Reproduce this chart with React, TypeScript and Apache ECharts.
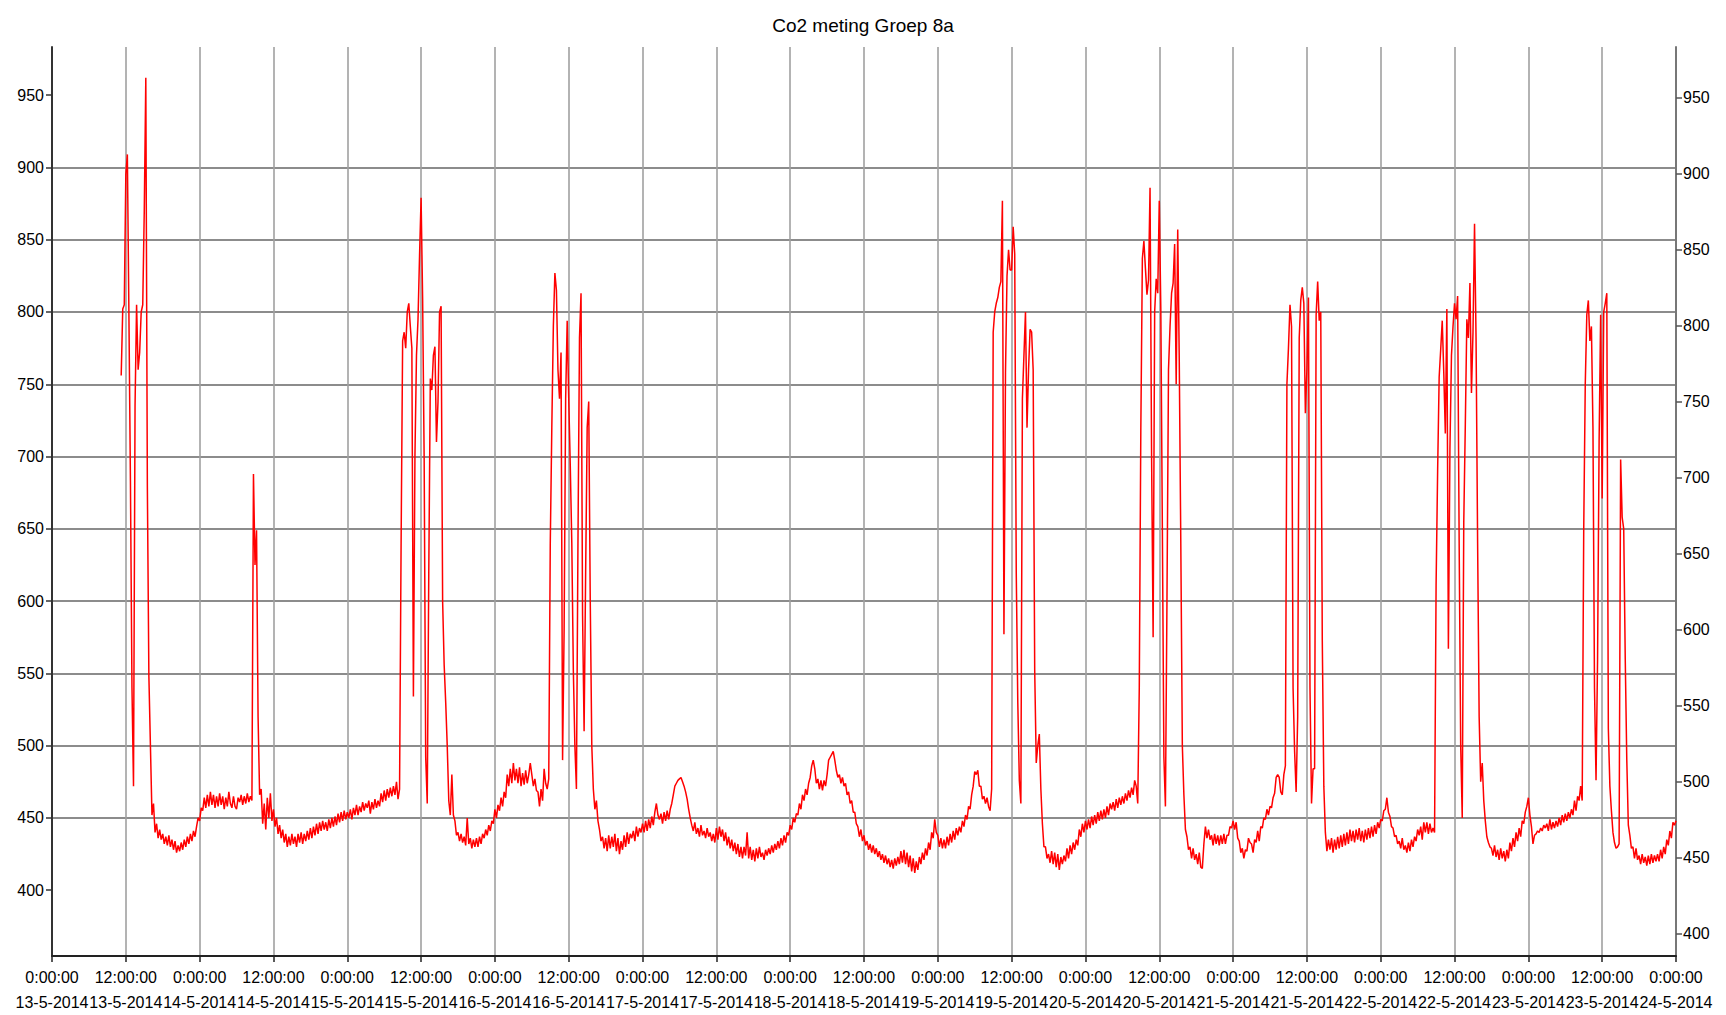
import React, { useEffect, useRef } from "react";
import * as echarts from "echarts";

const TITLE = "Co2 meting Groep 8a";

const X_TICK_TIMES = [
  "0:00:00", "12:00:00", "0:00:00", "12:00:00", "0:00:00", "12:00:00", "0:00:00", "12:00:00",
  "0:00:00", "12:00:00", "0:00:00", "12:00:00", "0:00:00", "12:00:00", "0:00:00", "12:00:00",
  "0:00:00", "12:00:00", "0:00:00", "12:00:00", "0:00:00", "12:00:00", "0:00:00",
];
const X_TICK_DATES = [
  "13-5-2014", "13-5-2014", "14-5-2014", "14-5-2014", "15-5-2014", "15-5-2014", "16-5-2014", "16-5-2014",
  "17-5-2014", "17-5-2014", "18-5-2014", "18-5-2014", "19-5-2014", "19-5-2014", "20-5-2014", "20-5-2014",
  "21-5-2014", "21-5-2014", "22-5-2014", "22-5-2014", "23-5-2014", "23-5-2014", "24-5-2014",
];
const Y_TICKS = [400, 450, 500, 550, 600, 650, 700, 750, 800, 850, 900, 950];

// CO2 readings every 15 minutes, one array per day (13-5-2014 .. 23-5-2014)
const DAY_13 = [
  null, null, null, null, null, null, null, null, null, null, null, null,
  null, null, null, null, null, null, null, null, null, null, null, null,
  null, null, null, null, null, null, null, null, null, null, null, null,
  null, null, null, null, null, null, null, null, null, 756, 802, 805,
  895, 909, 800, 683, 540, 472, 735, 805, 760, 772, 800, 805,
  870, 962, 680, 548, 500, 452, 460, 440, 446, 436, 442, 435,
  439, 432, 437, 431, 438, 430, 435, 428, 434, 426, 431, 427,
  433, 428, 435, 430, 437, 432, 439, 434, 441, 437, 444, 450,
];
const DAY_14 = [
  448, 457, 455, 464, 457, 466, 458, 468, 459, 466, 457, 465,
  458, 467, 459, 465, 456, 464, 458, 468, 460, 457, 465, 458,
  456, 464, 461, 466, 459, 465, 460, 467, 461, 465, 462, 688,
  625, 649, 520, 466, 470, 446, 460, 442, 464, 450, 467, 448,
  456, 444, 450, 439, 445, 436, 442, 433, 439, 430, 437, 431,
  439, 432, 437, 430, 439, 433, 440, 432, 439, 434, 441, 435,
  443, 436, 444, 438, 446, 439, 447, 441, 448, 442, 447, 441,
  449, 443, 450, 444, 451, 445, 453, 447, 454, 448, 455, 449,
];
const DAY_15 = [
  454, 450, 456, 449, 457, 452, 459, 452, 458, 454, 461, 455,
  460, 457, 462, 453, 461, 456, 463, 457, 462, 458, 467, 461,
  469, 462, 470, 464, 471, 465, 472, 466, 475, 463, 470, 640,
  780, 786, 775, 800, 806, 790, 775, 534, 700, 770, 795, 839,
  879, 809, 698, 492, 460, 620, 754, 746, 770, 776, 710, 738,
  800, 804, 600, 556, 530, 500, 462, 452, 480, 452, 448, 438,
  440, 434, 439, 433, 437, 431, 450, 432, 436, 429, 435, 430,
  436, 430, 437, 432, 439, 436, 442, 438, 445, 441, 448, 446,
];
const DAY_16 = [
  456, 450, 459, 455, 464, 458, 468, 464, 480, 472, 484, 474,
  488, 476, 484, 474, 485, 472, 481, 473, 483, 474, 480, 488,
  480, 472, 477, 469, 468, 458, 470, 462, 484, 474, 470, 477,
  640, 720, 790, 827, 815, 760, 740, 772, 490, 580, 740, 794,
  740, 694, 640, 552, 500, 470, 640, 782, 813, 590, 510, 620,
  720, 738, 600, 500, 470, 456, 462, 448, 442, 434, 437, 429,
  436, 427, 438, 429, 437, 430, 439, 427, 436, 425, 434, 428,
  438, 430, 440, 432, 439, 436, 441, 434, 444, 437, 443, 440,
];
const DAY_17 = [
  446, 440, 448, 441, 449, 443, 451, 445, 454, 460, 452, 449,
  453, 446, 454, 448, 455, 449, 456, 460, 466, 472, 474, 476,
  477, 478, 475, 472, 468, 463, 456, 450, 445, 441, 447, 439,
  443, 437, 445, 438, 441, 436, 443, 437, 440, 434, 439, 433,
  443, 435, 444, 437, 442, 434, 440, 431, 437, 429, 435, 427,
  433, 425, 432, 423, 430, 422, 430, 424, 440, 422, 430, 421,
  428, 420, 429, 422, 430, 423, 426, 421, 428, 424, 429, 425,
  431, 426, 432, 428, 434, 429, 436, 431, 438, 433, 440, 438,
];
const DAY_18 = [
  445, 442, 450, 447, 453, 452, 460, 456, 466, 462, 470, 466,
  474, 478, 486, 490, 484, 474, 477, 470, 476, 469, 476, 472,
  480, 490, 492, 494, 496, 490, 483, 478, 480, 474, 478, 472,
  474, 466, 468, 460, 462, 454, 454, 446, 444, 437, 442, 434,
  438, 431, 434, 428, 432, 426, 431, 425, 429, 423, 427, 421,
  425, 419, 424, 418, 422, 416, 421, 415, 422, 417, 423, 418,
  427, 419, 428, 418, 426, 416, 424, 413, 422, 412, 420, 414,
  423, 418, 426, 421, 429, 424, 433, 428, 440, 436, 449, 440,
];
const DAY_19 = [
  438, 430, 436, 429, 435, 429, 437, 431, 439, 433, 441, 435,
  443, 438, 444, 440, 448, 444, 452, 449, 458, 456, 466, 472,
  482, 480, 483, 472, 472, 463, 465, 460, 464, 458, 455, 470,
  786, 800, 806, 810, 817, 821, 877, 577, 758, 825, 843, 829,
  829, 859, 840, 620, 530, 476, 460, 740, 770, 800, 720, 760,
  788, 786, 760, 552, 488, 500, 508, 470, 446, 430, 430, 422,
  425, 419, 427, 418, 426, 416, 425, 414, 423, 418, 424, 420,
  429, 422, 431, 425, 433, 428, 435, 431, 442, 437, 446, 440,
];
const DAY_20 = [
  448, 442, 449, 443, 451, 445, 452, 446, 454, 448, 455, 449,
  456, 450, 458, 452, 460, 456, 461, 455, 463, 457, 464, 459,
  465, 460, 467, 462, 469, 464, 471, 466, 476, 472, 460, 540,
  718, 837, 849, 830, 812, 822, 886, 700, 575, 800, 823, 813,
  877, 802, 651, 492, 458, 600, 760, 790, 813, 820, 847, 750,
  857, 766, 640, 500, 466, 442, 437, 428, 430, 422, 429, 421,
  425, 418, 426, 416, 415, 432, 444, 436, 442, 435, 438, 431,
  439, 432, 438, 431, 438, 432, 439, 432, 438, 438, 444, 443,
];
const DAY_21 = [
  448, 442, 447, 436, 434, 426, 429, 422, 428, 427, 436, 433,
  432, 426, 435, 433, 441, 434, 444, 443, 450, 449, 456, 452,
  458, 457, 464, 467, 478, 480, 478, 468, 466, 480, 486, 750,
  775, 805, 790, 540, 496, 468, 520, 782, 808, 817, 806, 730,
  760, 810, 540, 460, 484, 484, 798, 821, 794, 800, 573, 472,
  440, 427, 435, 428, 436, 426, 435, 428, 437, 429, 438, 430,
  439, 431, 440, 432, 442, 434, 441, 433, 442, 435, 443, 434,
  441, 433, 442, 435, 443, 436, 444, 437, 445, 439, 447, 443,
];
const DAY_22 = [
  449, 448, 455, 456, 464, 454, 451, 444, 443, 437, 438, 432,
  434, 429, 436, 428, 431, 426, 433, 427, 435, 430, 437, 434,
  442, 438, 444, 435, 447, 440, 447, 439, 446, 440, 443, 440,
  611, 690, 755, 774, 794, 758, 716, 802, 567, 705, 770, 790,
  806, 795, 811, 640, 500, 450, 655, 722, 795, 782, 820, 744,
  786, 861, 780, 640, 520, 475, 488, 462, 448, 437, 433, 430,
  429, 424, 431, 423, 428, 421, 429, 422, 427, 420, 428, 422,
  433, 427, 436, 430, 440, 434, 443, 437, 448, 446, 454, 458,
];
const DAY_23 = [
  464, 452, 444, 432, 438, 439, 441, 440, 443, 441, 445, 443,
  446, 441, 449, 442, 447, 443, 448, 444, 450, 445, 452, 447,
  453, 448, 454, 450, 456, 452, 462, 455, 465, 462, 472, 462,
  650, 750, 798, 808, 780, 790, 720, 540, 476, 560, 710, 798,
  671, 800, 806, 813, 512, 472, 455, 440, 433, 429, 430, 432,
  698, 658, 650, 560, 490, 445, 438, 429, 430, 422, 429, 421,
  424, 418, 425, 419, 423, 417, 424, 418, 425, 419, 424, 420,
  425, 420, 428, 422, 430, 425, 435, 431, 441, 436, 447, 445,
];
const FINAL_VALUE = 448; // 24-5-2014 0:00:00

const DAYS = [DAY_13, DAY_14, DAY_15, DAY_16, DAY_17, DAY_18, DAY_19, DAY_20, DAY_21, DAY_22, DAY_23];

const FONT = "'Liberation Sans', Arial, sans-serif";

function buildData(): [number, number][] {
  const pts: [number, number][] = [];
  DAYS.forEach((day, d) => {
    day.forEach((v, i) => {
      if (v !== null && v !== undefined) pts.push([d * 24 + i / 4, v as number]);
    });
  });
  pts.push([DAYS.length * 24, FINAL_VALUE]);
  return pts;
}

export default function App() {
  const ref = useRef<HTMLDivElement>(null);

  useEffect(() => {
    if (!ref.current) return;
    const chart = echarts.init(ref.current, undefined, { renderer: "svg" });
    const yLabel = { fontSize: 16, color: "#000", fontFamily: FONT, customValues: Y_TICKS };
    chart.setOption({
      animation: false,
      backgroundColor: "#ffffff",
      title: {
        text: TITLE,
        left: "center",
        top: 9,
        textStyle: { fontFamily: FONT, fontSize: 19, fontWeight: "normal", color: "#000", lineHeight: 22 },
      },
      grid: { left: 52, right: 50, top: 47, bottom: 59, containLabel: false },
      xAxis: {
        type: "value",
        min: 0,
        max: DAYS.length * 24,
        interval: 12,
        axisLine: { show: true, lineStyle: { color: "#222", width: 2 } },
        axisTick: { show: true, length: 6, lineStyle: { color: "#222", width: 1.5 } },
        axisLabel: {
          margin: 9,
          fontSize: 16,
          lineHeight: 25,
          color: "#000",
          fontFamily: FONT,
          formatter: (v: number) => {
            const idx = Math.round(v / 12);
            return (X_TICK_TIMES[idx] ?? "") + "\n" + (X_TICK_DATES[idx] ?? "");
          },
        },
        splitLine: { show: true, lineStyle: { color: "#a0a0a0", width: 1.6 } },
      },
      yAxis: [
        {
          type: "value",
          position: "left",
          min: 354.5,
          max: 983.3,
          minInterval: 50,
          maxInterval: 50,
          splitNumber: 12,
          axisLine: { show: true, lineStyle: { color: "#333", width: 2 } },
          axisTick: { show: true, length: 6, customValues: Y_TICKS, lineStyle: { color: "#333", width: 1.5 } },
          axisLabel: { ...yLabel, margin: 8 },
          splitLine: {
            show: true,
            showMinLine: false,
            showMaxLine: false,
            lineStyle: { color: "#8c8c8c", width: 2 },
          },
        },
        {
          type: "value",
          position: "right",
          min: 385.4,
          max: 983.1,
          minInterval: 50,
          maxInterval: 50,
          splitNumber: 12,
          axisLine: { show: true, lineStyle: { color: "#777", width: 2 } },
          axisTick: { show: true, length: 6, customValues: Y_TICKS, lineStyle: { color: "#555", width: 1.5 } },
          axisLabel: { ...yLabel, margin: 7 },
          splitLine: { show: false },
        },
      ],
      series: [
        {
          type: "line",
          xAxisIndex: 0,
          yAxisIndex: 0,
          data: buildData(),
          showSymbol: false,
          symbol: "none",
          silent: true,
          lineStyle: { color: "#ff0000", width: 1.5 },
        },
      ],
    });
    return () => chart.dispose();
  }, []);

  return (
    <div
      ref={ref}
      style={{ position: "fixed", left: 0, top: 0, width: 1726, height: 1015, background: "#fff" }}
    />
  );
}
